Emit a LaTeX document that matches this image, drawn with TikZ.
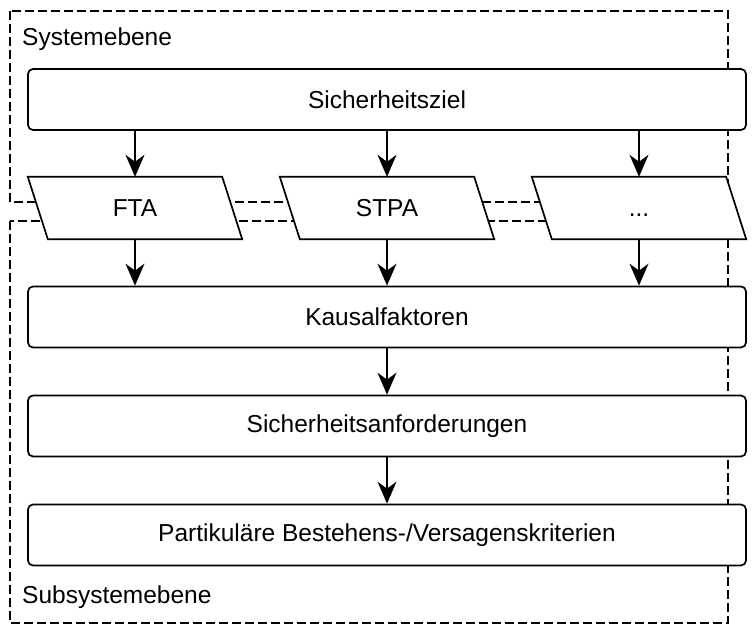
\documentclass[tikz,border=0pt]{standalone}
\usepackage{fontspec}
\setmainfont{Liberation Sans}
\usetikzlibrary{arrows.meta,calc}
\pgfdeclarelayer{bg}
\pgfsetlayers{bg,main}
\begin{document}
\begin{tikzpicture}[x=1pt,y=-1pt,
  every node/.style={font=\fontsize{24.5}{28}\selectfont},
  box/.style={draw, line width=1.7pt, rounded corners=5pt, fill=white,
    minimum width=718pt, minimum height=61pt, inner sep=0pt},
  slanttext/.style={minimum width=214pt, minimum height=62pt, inner sep=0pt},
  slantshape/.style={draw, line width=1.7pt, fill=white, line join=miter},
  frame/.style={draw, line width=1.7pt, dash pattern=on 9pt off 4pt},
  flow/.style={line width=1.7pt, -{Stealth[length=22pt,width=19pt,inset=7pt]}},
  leveltext/.style={anchor=base west, inner sep=0pt}]
  \useasboundingbox (0,0) rectangle (752,631);

  % main flow boxes
  \node[box] (ziel) at (387,99.5) {Sicherheitsziel};
  \node[slanttext] (fta) at (135,208) {FTA};
  \node[slanttext] (stpa) at (387,208) {STPA};
  \node[slanttext] (more) at (639,208) {\vphantom{A}...};
  \node[box] (kausal) at (387,317) {Kausalfaktoren};
  \node[box] (anf) at (387,426) {Sicherheitsanforderungen};
  \node[box] (krit) at (387,535) {Partikuläre Bestehens-/Versagenskriterien};

  % level labels
  \node[leveltext] (sys) at (22,46) {Systemebene};
  \node[leveltext] (sub) at (22,603) {Subsystemebene};

  \begin{pgfonlayer}{bg}
    % level frames
    \draw[frame] (10,11) rectangle (728,202);
    \draw[frame] (10,221) rectangle (728,623);
    % parallelogram outlines of the analysis methods
    \draw[slantshape] (fta.north west) -- ($(fta.north east)+(-20,0)$)
      -- (fta.south east) -- ($(fta.south west)+(20,0)$) -- cycle;
    \draw[slantshape] (stpa.north west) -- ($(stpa.north east)+(-20,0)$)
      -- (stpa.south east) -- ($(stpa.south west)+(20,0)$) -- cycle;
    \draw[slantshape] (more.north west) -- ($(more.north east)+(-20,0)$)
      -- (more.south east) -- ($(more.south west)+(20,0)$) -- cycle;
  \end{pgfonlayer}

  % connectors
  \draw[flow] (ziel.south -| fta.north) -- (fta.north);
  \draw[flow] (ziel.south -| stpa.north) -- (stpa.north);
  \draw[flow] (ziel.south -| more.north) -- (more.north);
  \draw[flow] (fta.south) -- (kausal.north -| fta.south);
  \draw[flow] (stpa.south) -- (kausal.north -| stpa.south);
  \draw[flow] (more.south) -- (kausal.north -| more.south);
  \draw[flow] (kausal) -- (anf);
  \draw[flow] (anf) -- (krit);
\end{tikzpicture}
\end{document}
